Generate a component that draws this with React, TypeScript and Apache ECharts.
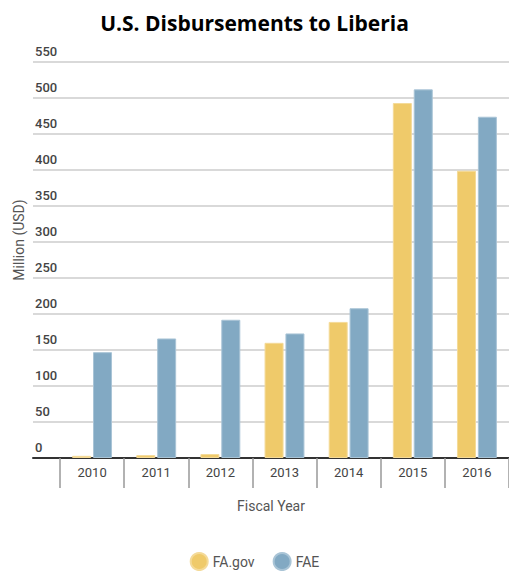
import React, { useEffect, useRef } from "react";
import * as echarts from "echarts";

const years = ["2010", "2011", "2012", "2013", "2014", "2015", "2016"];
const faGov = [3, 4, 5.5, 160, 189, 493, 399];
const fae = [147, 166, 192, 173, 208, 512, 474];
const seriesNames = ["FA.gov", "FAE"];
const yMax = 550;
const yStep = 50;

export default function App() {
  const ref = useRef<HTMLDivElement>(null);
  useEffect(() => {
    if (!ref.current) return;
    const chart = echarts.init(ref.current, null, { renderer: "svg" });
    const font = "Roboto, sans-serif";
    chart.setOption({
      animation: false,
      backgroundColor: "#fff",
      title: {
        text: "U.S. Disbursements to Liberia",
        left: "center",
        top: 7,
        textStyle: { fontFamily: "'Open Sans', sans-serif", fontWeight: "bold", fontSize: 21, color: "#000" },
      },
      legend: {
        data: seriesNames,
        left: "center",
        top: 552,
        padding: 0,
        icon: "circle",
        itemWidth: 17,
        itemHeight: 17,
        itemGap: 18,
        textStyle: { fontFamily: font, fontSize: 14, color: "#555" },
      },
      grid: [
        { left: 60, right: 0, top: 62, bottom: 113 },
        { left: 33, right: 0, top: 62, bottom: 113 },
      ],
      xAxis: [
        {
          type: "category",
          gridIndex: 0,
          data: years,
          boundaryGap: true,
          axisLine: { show: false },
          axisTick: { show: true, length: 30, lineStyle: { color: "#999", width: 1.5 } },
          axisLabel: { margin: 8, fontFamily: font, fontSize: 13, color: "#444" },
          splitLine: { show: false },
        },
        {
          type: "value",
          gridIndex: 1,
          min: 0,
          max: 1,
          axisLine: { show: true, lineStyle: { color: "#333", width: 2 } },
          axisTick: { show: false },
          axisLabel: { show: false },
          splitLine: { show: false },
          name: "Fiscal Year",
          nameLocation: "middle",
          nameGap: 41,
          nameTextStyle: { fontFamily: font, fontSize: 14, color: "#555" },
        },
      ],
      yAxis: [
        {
          type: "value",
          gridIndex: 0,
          min: 0,
          max: yMax,
          interval: yStep,
          show: false,
          splitLine: { show: false },
        },
        {
          type: "value",
          gridIndex: 1,
          min: 0,
          max: yMax,
          interval: yStep,
          axisLine: { show: false },
          axisTick: { show: false },
          axisLabel: {
            inside: true,
            margin: 2,
            verticalAlign: "bottom",
            padding: [0, 0, 4, 0],
            fontFamily: font,
            fontSize: 13,
            fontWeight: 500,
            color: "#444",
          },
          splitLine: { show: true, lineStyle: { color: "#ccc", width: 1.5 } },
        },
      ],
      graphic: [
        {
          type: "text",
          x: 19,
          y: 240,
          rotation: Math.PI / 2,
          style: {
            text: "Million (USD)",
            fontFamily: font,
            fontSize: 14,
            fill: "#555",
            align: "center",
            verticalAlign: "middle",
          },
        },
      ],
      series: [
        {
          name: seriesNames[0],
          type: "bar",
          xAxisIndex: 0,
          yAxisIndex: 0,
          data: faGov,
          barWidth: 19,
          barGap: "10%",
          itemStyle: { color: "#EFCA6A", borderColor: "#F4DA98", borderWidth: 1 },
        },
        {
          name: seriesNames[1],
          type: "bar",
          xAxisIndex: 0,
          yAxisIndex: 0,
          data: fae,
          barWidth: 19,
          barGap: "10%",
          itemStyle: { color: "#82A9C3", borderColor: "#A9C4D6", borderWidth: 1 },
        },
      ],
    });
    return () => chart.dispose();
  }, []);
  return (
    <div
      ref={ref}
      style={{ position: "absolute", left: 0, top: 0, width: 509, height: 571 }}
    />
  );
}
